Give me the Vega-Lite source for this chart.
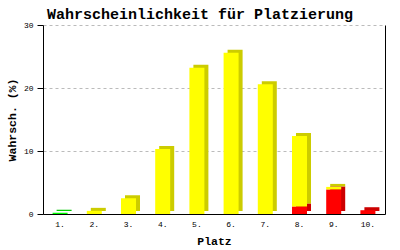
{
  "$schema": "https://vega.github.io/schema/vega-lite/v6.json",
  "autosize": "none",
  "width": 342,
  "height": 189,
  "padding": {"left": 43, "top": 25, "right": 15, "bottom": 36},
  "background": "white",
  "title": {
    "text": "Wahrscheinlichkeit für Platzierung",
    "font": "Liberation Mono",
    "fontSize": 15,
    "fontWeight": "bold",
    "color": "black",
    "anchor": "middle",
    "dx": -14,
    "offset": 0,
    "dy": 1
  },
  "data": {
    "values": [
      {"platz": "1.", "zone": "Aufstieg", "wert": 0.2},
      {"platz": "2.", "zone": "Mittelfeld", "wert": 0.5},
      {"platz": "3.", "zone": "Mittelfeld", "wert": 2.5},
      {"platz": "4.", "zone": "Mittelfeld", "wert": 10.3},
      {"platz": "5.", "zone": "Mittelfeld", "wert": 23.2},
      {"platz": "6.", "zone": "Mittelfeld", "wert": 25.6},
      {"platz": "7.", "zone": "Mittelfeld", "wert": 20.6},
      {"platz": "8.", "zone": "Abstieg", "wert": 1.2},
      {"platz": "8.", "zone": "Mittelfeld", "wert": 11.2},
      {"platz": "9.", "zone": "Abstieg", "wert": 3.9},
      {"platz": "9.", "zone": "Mittelfeld", "wert": 0.4},
      {"platz": "10.", "zone": "Abstieg", "wert": 0.6}
    ]
  },
  "encoding": {
    "x": {
      "field": "platz",
      "type": "ordinal",
      "sort": null,
      "scale": {"paddingInner": 0, "paddingOuter": 0},
      "axis": {
        "title": "Platz",
        "labelAngle": 0,
        "ticks": false,
        "labelFont": "Liberation Mono",
        "labelFontSize": 8,
        "labelColor": "black",
        "labelPadding": 6,
        "domainColor": "black",
        "titleFont": "Liberation Mono",
        "titleFontSize": 11.5,
        "titleFontWeight": "bold",
        "titleColor": "black",
        "titlePadding": 7
      }
    },
    "y": {
      "field": "wert",
      "type": "quantitative",
      "stack": "zero",
      "scale": {"domain": [0, 30], "nice": false}
    },
    "order": {"field": "zone", "sort": "ascending"}
  },
  "layer": [
    {
      "mark": {"type": "bar", "width": 15, "xOffset": 4, "x2Offset": 4, "yOffset": -3, "y2Offset": -3},
      "encoding": {
        "color": {
          "field": "zone",
          "type": "nominal",
          "scale": {"domain": ["Abstieg", "Aufstieg", "Mittelfeld"], "range": ["#CC0000", "#00CC00", "#CCCC00"]},
          "legend": null
        },
        "y": {
          "field": "wert",
          "type": "quantitative",
          "stack": "zero",
          "scale": {"domain": [0, 30], "nice": false},
          "axis": {
            "title": "Wahrsch. (%)",
            "values": [0, 10, 20, 30],
            "tickColor": "black",
            "tickSize": 6,
            "domainColor": "black",
            "grid": true,
            "gridColor": "#bbbbbb",
            "gridDash": [3, 3],
            "labelFont": "Liberation Mono",
            "labelFontSize": 8,
            "labelColor": "black",
            "labelPadding": 4,
            "titleFont": "Liberation Mono",
            "titleFontSize": 11.5,
            "titleFontWeight": "bold",
            "titleColor": "black",
            "titlePadding": 6
          }
        }
      }
    },
    {
      "mark": {"type": "bar", "width": 15},
      "encoding": {
        "color": {
          "field": "zone",
          "type": "nominal",
          "scale": {"domain": ["Abstieg", "Aufstieg", "Mittelfeld"], "range": ["#FF0000", "#00FF00", "#FFFF00"]},
          "legend": null
        },
        "y": {
          "field": "wert",
          "type": "quantitative",
          "stack": "zero",
          "scale": {"domain": [0, 30], "nice": false},
          "axis": {
            "orient": "right",
            "title": null,
            "labels": false,
            "ticks": false,
            "grid": false,
            "domainColor": "black"
          }
        }
      }
    }
  ],
  "resolve": {"scale": {"color": "independent"}, "axis": {"y": "independent"}},
  "config": {
    "view": {"stroke": null},
    "axis": {"domainWidth": 1}
  }
}
